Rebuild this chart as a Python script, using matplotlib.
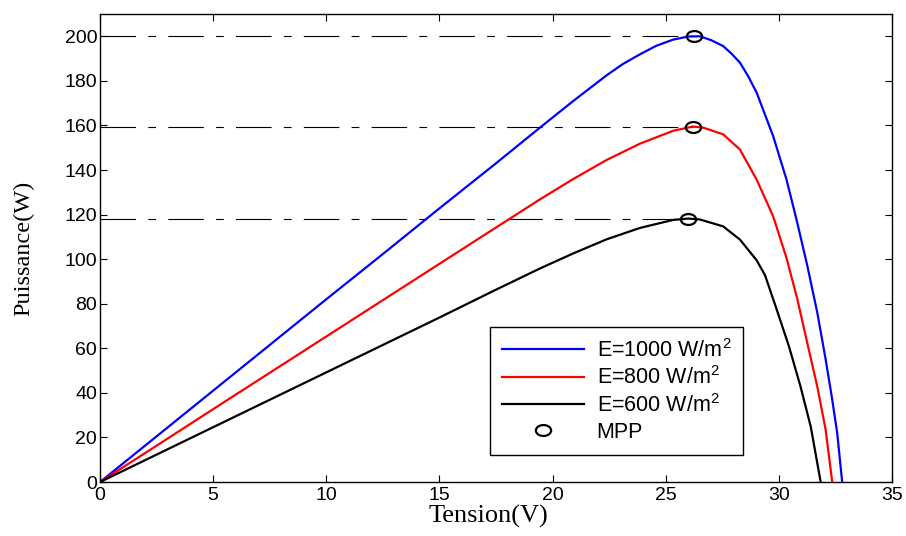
import numpy as np
import matplotlib
matplotlib.use('Agg')
import matplotlib.pyplot as plt
from matplotlib.path import Path
from matplotlib.transforms import Affine2D

v_1000 = [0, 2.5, 5, 7.5, 10, 12.5, 15, 17.5, 19.44, 20.92, 22.39, 23.1, 23.86, 24.6, 25.33, 26.0,
          26.5, 27.0, 27.54, 27.9, 28.28, 28.65, 29.02, 29.75, 30.34, 30.8, 31.26, 31.7, 32.07,
          32.36, 32.58, 32.8]
p_1000 = [0, 20.5, 41, 61.5, 82, 102.3, 122.8, 143, 159, 171, 182.5, 187.5, 191.9, 195.8, 198.5, 199.9,
          200, 198.3, 195.6, 192.3, 188.2, 182, 174.7, 155.2, 135.7, 117, 97, 76, 55,
          37, 22, 0]

v_800 = [0, 2.5, 5, 7.5, 10, 12.5, 15, 17.5, 19.44, 20.92, 22.39, 23.86, 25.33, 26.2, 26.66,
         27.54, 28.28, 29.02, 29.75, 30.34, 30.82, 31.26, 31.7, 32.07, 32.36]
p_800 = [0, 16.3, 32.7, 49, 65.3, 81.6, 97.9, 114.2, 126.8, 136, 144.5, 151.8, 157.6, 159.5, 159,
         156, 149.2, 135.7, 119.2, 100.5, 82, 62.3, 42.8, 23.4, 0]

v_600 = [0, 2.5, 5, 7.5, 10, 12.5, 15, 17.5, 19.44, 20.92, 22.39, 23.86, 25.33, 26.0, 26.51,
         27.54, 28.28, 29.02, 29.39, 29.86, 30.45, 30.96, 31.41, 31.85]
p_600 = [0, 12.3, 24.6, 36.9, 49.2, 61.5, 73.8, 86.3, 95.8, 102.6, 108.9, 114, 117.6, 118.2, 117.8,
         114.7, 108.8, 99.5, 92.8, 78.8, 60.8, 42.8, 24.9, 0]

mpp_v = [26.26, 26.2, 26.0]
mpp_p = [200, 159.5, 118.2]

labels = ['E=1000 W/m$^2$', 'E=800 W/m$^2$', 'E=600 W/m$^2$']
colors = ['blue', 'red', 'black']

plt.rcParams['mathtext.default'] = 'regular'

# the MPP circles look squashed in the reference
ellipse = Affine2D().scale(1.4, 1.0).transform_path(Path.unit_circle())

fig = plt.figure(figsize=(9.06, 5.36), dpi=100)
ax = fig.add_axes([0.1104, 0.1007, 0.8741, 0.8732])

# dash-dot guide lines up to each MPP
for v, p in zip(mpp_v, mpp_p):
    ax.plot([0, v], [p, p], color='black', lw=0.8, linestyle=(0, (32, 11, 7, 11)))

for v, p, lab, c in zip([v_1000, v_800, v_600], [p_1000, p_800, p_600], labels, colors):
    ax.plot(v, p, color=c, lw=1.6, label=lab)

ax.plot(mpp_v, mpp_p, marker=ellipse, ls='none', mfc='none', mec='black', mew=1.6, ms=11,
        label='MPP')

ax.set_xlim(0, 35)
ax.set_ylim(0, 210)
ax.set_xticks(np.arange(0, 36, 5))
ax.set_yticks(np.arange(0, 201, 20))
ax.tick_params(direction='in', top=True, right=True, length=5, width=0.8,
               labelsize=14, pad=2)
ax.tick_params(axis='x', pad=3.5)
for lab in ax.get_xticklabels() + ax.get_yticklabels():
    lab.set_fontfamily('Liberation Sans')
for s in ax.spines.values():
    s.set_linewidth(1.0)

ax.set_xlabel('Tension(V)', fontfamily='Liberation Serif', fontsize=19, labelpad=1)
ax.xaxis.label.set_x(0.49)
ax.set_ylabel('Puissance(W)', fontfamily='Liberation Serif', fontsize=17.5, labelpad=22)

leg = ax.legend(loc='upper left', bbox_to_anchor=(0.4924, 0.3312), borderaxespad=0,
                prop={'family': 'Liberation Sans', 'size': 15.5}, handlelength=3.8,
                fancybox=False, framealpha=1, edgecolor='black', borderpad=0.55,
                labelspacing=0.22, handletextpad=0.6)
leg.get_frame().set_linewidth(1.0)

fig.savefig('out.png', dpi=100)
